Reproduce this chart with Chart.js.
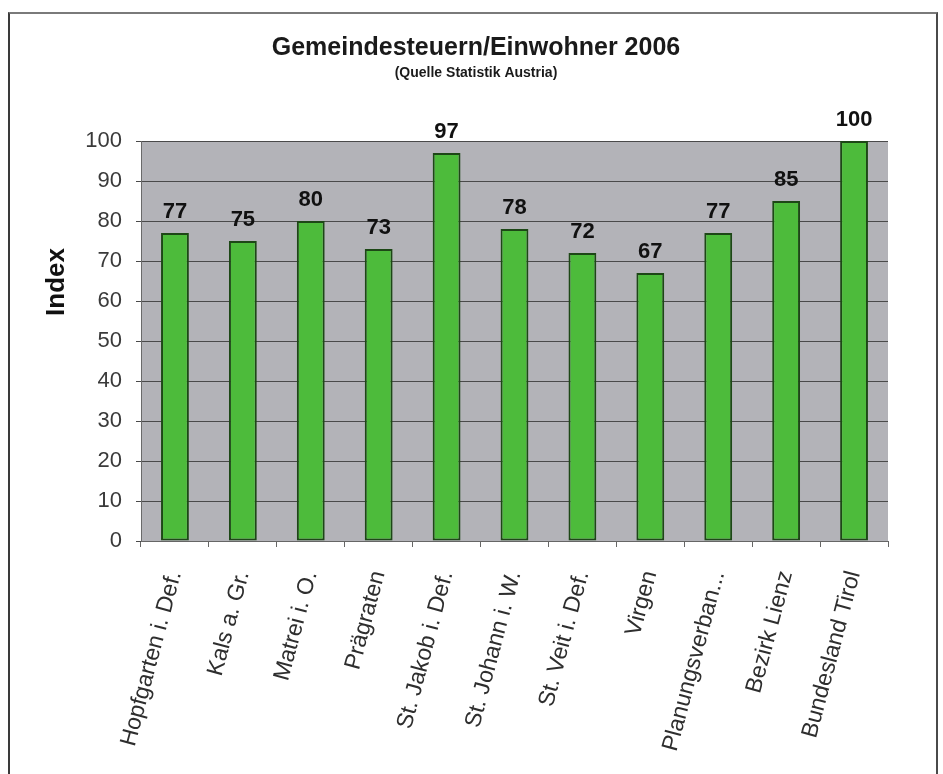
<!DOCTYPE html>
<html>
<head>
<meta charset="utf-8">
<script src="https://cdn.jsdelivr.net/npm/chart.js@4.4.1/dist/chart.umd.min.js"></script>
<style>
  html, body { margin: 0; padding: 0; background: #ffffff; }
  #wrap { position: relative; width: 943px; height: 774px; overflow: hidden; }
  #frame { position: absolute; left: 8px; top: 12px; width: 926px; height: 800px;
           border-left: 2px solid #3a3a3a; border-top: 2px solid #7a7a7a; border-right: 2px solid #4a4a4a; }
  canvas { position: absolute; left: 0; top: 0; }
</style>
</head>
<body>
<div id="wrap">
  <div id="frame"></div>
  <canvas id="c" width="943" height="774"></canvas>
</div>
<script>
const chartTitle = "Gemeindesteuern/Einwohner 2006";
const chartSubtitle = "(Quelle Statistik Austria)";
const yAxisTitle = "Index";
const categories = [
  "Hopfgarten i. Def.",
  "Kals a. Gr.",
  "Matrei i. O.",
  "Prägraten",
  "St. Jakob i. Def.",
  "St. Johann i. W.",
  "St. Veit i. Def.",
  "Virgen",
  "Planungsverban...",
  "Bezirk Lienz",
  "Bundesland Tirol"
];
const indexValues = [77, 75, 80, 73, 97, 78, 72, 67, 77, 85, 100];
const yTickMin = 0;
const yTickMax = 100;
const yTickStep = 10;

const plotBg = {
  id: 'plotBg',
  beforeDraw(chart) {
    const { ctx, chartArea: a } = chart;
    ctx.save();
    ctx.fillStyle = '#b3b3b8';
    ctx.fillRect(a.left, a.top, a.right - a.left, a.bottom - a.top);
    ctx.restore();
  }
};

const textLayer = {
  id: 'textLayer',
  afterDatasetsDraw(chart) {
    const { ctx, chartArea: a } = chart;
    ctx.save();
    const meta = chart.getDatasetMeta(0);
    ctx.fillStyle = '#111111';
    ctx.font = 'bold 22px "Liberation Sans", Arial, sans-serif';
    ctx.textAlign = 'center';
    ctx.textBaseline = 'alphabetic';
    meta.data.forEach((bar, i) => {
      ctx.fillText(String(indexValues[i]), bar.x, bar.y - 15);
    });
    ctx.fillStyle = '#1a1a1a';
    ctx.font = 'bold 25px "Liberation Sans", Arial, sans-serif';
    ctx.textBaseline = 'middle';
    ctx.fillText(chartTitle, 476, 48);
    ctx.font = 'bold 14px "Liberation Sans", Arial, sans-serif';
    ctx.fillText(chartSubtitle, 476, 73);
    ctx.translate(a.left - 84, a.top + 141);
    ctx.rotate(-Math.PI / 2);
    ctx.font = 'bold 26px "Liberation Sans", Arial, sans-serif';
    ctx.fillStyle = '#111111';
    ctx.fillText(yAxisTitle, 0, 0);
    ctx.restore();
  }
};

new Chart(document.getElementById('c'), {
  type: 'bar',
  data: {
    labels: categories,
    datasets: [{
      data: indexValues,
      backgroundColor: '#4dbb3b',
      borderColor: '#1d4716',
      borderWidth: 2,
      borderSkipped: false,
      barPercentage: 0.82,
      categoryPercentage: 0.5
    }]
  },
  options: {
    responsive: false,
    animation: false,
    events: [],
    layout: { padding: { left: 0, right: 55, top: 141, bottom: 0 } },
    plugins: {
      legend: { display: false },
      title: { display: false },
      tooltip: { enabled: false }
    },
    scales: {
      x: {
        afterFit(scale) { scale.height = 233; },
        grid: { display: true, drawOnChartArea: false, drawTicks: true, tickLength: 6, color: '#666666', offset: true },
        border: { display: true, color: '#666666', width: 1 },
        ticks: {
          autoSkip: false,
          minRotation: 75,
          maxRotation: 75,
          padding: 21,
          color: '#2e2e2e',
          font: { family: '"Liberation Sans", Arial, sans-serif', size: 23 }
        }
      },
      y: {
        min: yTickMin,
        max: yTickMax,
        afterFit(scale) { scale.width = 141; },
        grid: { color: '#4a4a4a', lineWidth: 1, tickLength: 5, drawTicks: true },
        border: { display: true, color: '#6a6a6a', width: 1 },
        ticks: {
          stepSize: yTickStep,
          padding: 14,
          color: '#3a3a3a',
          font: { family: '"Liberation Sans", Arial, sans-serif', size: 22 }
        }
      }
    }
  },
  plugins: [plotBg, textLayer]
});
</script>
</body>
</html>
